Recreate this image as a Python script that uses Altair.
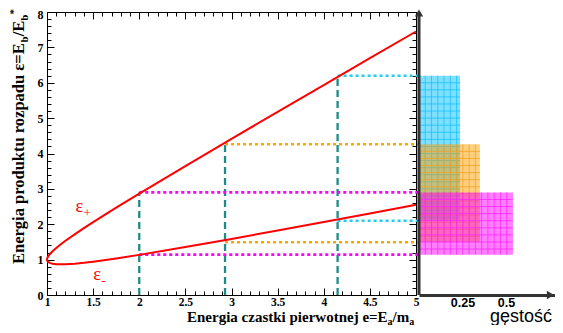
import altair as alt
import pandas as pd
import numpy as np

# ---- data ----
curve_e = [1.0, 1.002, 1.01, 1.03, 1.06, 1.1, 1.15, 1.2, 1.3, 1.4, 1.5, 1.75, 2.0, 2.5, 3.0, 3.5, 4.0, 4.5, 5.0]
eps_plus = [1.0, 1.034, 1.081, 1.153, 1.236, 1.329, 1.434, 1.532, 1.715, 1.890, 2.059, 2.468, 2.866, 3.646, 4.414, 5.177, 5.936, 6.694, 7.449]
eps_minus = [1.0, 0.970, 0.939, 0.907, 0.884, 0.871, 0.866, 0.868, 0.885, 0.910, 0.941, 1.032, 1.134, 1.354, 1.586, 1.823, 2.064, 2.306, 2.551]

mark_e = [2.0, 2.93, 4.15]
mark_hi = [2.9, 4.26, 6.2]
mark_lo = [1.14, 1.49, 2.1]
mark_color = ["#ff00ff", "#ffa500", "#22ccee"]

dens_lo = [2.1, 1.49, 1.14]
dens_hi = [6.2, 4.26, 2.9]
dens_w = [0.236, 0.35, 0.54]
dens_fill = ["#00bfff", "#ff9f00", "#ff00ff"]
dens_line = ["#10c0f8", "#f0a020", "#ff20ff"]

lab_e = [1.31, 1.50]
lab_eps = [2.35, 0.42]
lab_sub = ["+", "-"]

x_ticks = [round(1 + 0.1 * i, 1) for i in range(41)]
y_ticks = [round(0.2 * i, 1) for i in range(41)]
dens_ticks = [0.25, 0.5]

# ---- layout ----
W, H = 508, 283
WM = 369
D0, D1 = 372, 508

main_x = alt.Scale(domain=[1, 5], range=[0, WM], nice=False, zero=False)
yscale = alt.Scale(domain=[0, 8], nice=False, zero=False)
dens_x = alt.Scale(domain=[0, (D1 - D0) / 174.0], range=[D0, D1], nice=False, zero=False)

xt = "abs(datum.value*2 - round(datum.value*2)) < 0.001"
yt = "abs(datum.value - round(datum.value)) < 0.001"
xsize = {"condition": {"test": xt, "value": -7}, "value": -4}
ysize = {"condition": {"test": yt, "value": -7}, "value": -4}
common = dict(domainColor="black", domainWidth=1, tickColor="black", tickWidth=1,
              grid=False, labelOverlap=False, labelFlush=False, title=None)
lab = dict(labelFont="Liberation Serif", labelFontWeight="bold", labelColor="black")

x_bottom = alt.Axis(orient="bottom", values=x_ticks, tickSize=xsize, labelPadding=8, labelFontSize=11.5,
                    labelExpr=f"({xt}) ? format(datum.value, '~g') : ''", **lab, **common)
x_top = alt.Axis(orient="top", values=x_ticks, tickSize=xsize, labels=False, **common)
y_left = alt.Axis(orient="left", values=y_ticks, tickSize=ysize, labelPadding=11, labelFontSize=12,
                  labelOffset={"condition": {"test": "datum.value > 7.9", "value": 2}, "value": 0},
                  labelExpr=f"({yt}) ? format(datum.value, '~g') : ''", **lab, **common)
y_right = alt.Axis(orient="right", offset=-(W - WM), values=y_ticks, tickSize=ysize, labels=False, **common)
dens_axis = alt.Axis(orient="bottom", values=dens_ticks, format=".2~f", ticks=False, labelPadding=1,
                     labelFont="Liberation Sans", labelFontWeight="bold", labelFontSize=12.5,
                     labelColor="black", domainColor="#333333", domainWidth=3, grid=False,
                     labelFlush=False, title=None)

one = pd.DataFrame({"k": [0]})

# curve (lower branch reversed, then upper branch)
ce = list(reversed(curve_e)) + curve_e[1:]
cv = list(reversed(eps_minus)) + eps_plus[1:]
df_curve = pd.DataFrame({"e": ce, "eps": cv, "i": list(range(len(ce)))})

df_mark = pd.DataFrame({"e": mark_e, "hi": mark_hi, "lo": mark_lo, "zero": [0, 0, 0], "c": mark_color})
df_dot = pd.DataFrame({"e": mark_e * 2, "v": mark_hi + mark_lo, "c": mark_color * 2})

layers = []

dashed = alt.Chart(df_mark).mark_rule(color="#1f8a8a", strokeWidth=2.3, strokeDash=[7, 4]).encode(
    x=alt.X("e:Q", scale=main_x, axis=x_top),
    y=alt.Y("zero:Q", scale=yscale, axis=y_right),
    y2="hi:Q",
)
layers.append(dashed)

dotted = alt.Chart(df_dot).mark_rule(strokeWidth=2.6, strokeDash=[3, 3]).encode(
    x=alt.X("e:Q", scale=main_x, axis=None),
    x2=alt.value(D0 - 1),
    y=alt.Y("v:Q", scale=yscale, axis=None),
    color=alt.Color("c:N", scale=None),
)
layers.append(dotted)

curve = alt.Chart(df_curve).mark_line(color="#ff0000", strokeWidth=2).encode(
    x=alt.X("e:Q", scale=main_x, axis=x_bottom),
    y=alt.Y("eps:Q", scale=yscale, axis=y_left),
    order="i:Q",
)
layers.append(curve)

df_lab = pd.DataFrame({"e": lab_e, "eps": lab_eps, "sub": lab_sub})
layers.append(alt.Chart(df_lab).mark_text(font="Liberation Serif", fontSize=18, color="#ff0000",
                                          align="left", baseline="alphabetic").encode(
    x=alt.X("e:Q", scale=main_x, axis=None), y=alt.Y("eps:Q", scale=yscale, axis=None),
    text=alt.value("ε")))
layers.append(alt.Chart(df_lab).mark_text(font="Liberation Serif", fontSize=13, color="#ff0000",
                                          align="left", baseline="alphabetic", dx=8, dy=5).encode(
    x=alt.X("e:Q", scale=main_x, axis=None), y=alt.Y("eps:Q", scale=yscale, axis=None),
    text="sub:N"))

# density boxes with grid pattern
first = True
for lo, hi, w, fc, lc in zip(dens_lo, dens_hi, dens_w, dens_fill, dens_line):
    df_r = pd.DataFrame({"x0": [0.0], "w": [w], "lo": [lo], "hi": [hi]})
    layers.append(alt.Chart(df_r).mark_rect(color=fc, opacity=0.5).encode(
        x=alt.X("x0:Q", scale=dens_x, axis=dens_axis if first else None),
        x2="w:Q",
        y=alt.Y("lo:Q", scale=yscale, axis=None), y2="hi:Q"))
    first = False
    vx = np.arange(0.036, w - 0.005, 0.036)
    hy = hi - np.arange(0.2, hi - lo - 0.05, 0.2)
    df_v = pd.DataFrame({"x": vx, "lo": lo, "hi": hi})
    df_h = pd.DataFrame({"y": hy, "x0": 0.0, "w": w})
    layers.append(alt.Chart(df_v).mark_rule(color=lc, strokeWidth=0.9, opacity=0.8).encode(
        x=alt.X("x:Q", scale=dens_x, axis=None),
        y=alt.Y("lo:Q", scale=yscale, axis=None), y2="hi:Q"))
    layers.append(alt.Chart(df_h).mark_rule(color=lc, strokeWidth=0.9, opacity=0.8).encode(
        x=alt.X("x0:Q", scale=dens_x, axis=None), x2="w:Q",
        y=alt.Y("y:Q", scale=yscale, axis=None)))

# right panel axes (vertical line + arrows)
df0 = pd.DataFrame({"x": [0.0]})
layers.append(alt.Chart(df0).mark_rule(color="#333333", strokeWidth=3).encode(
    x=alt.X("x:Q", scale=dens_x, axis=None), y=alt.value(0), y2=alt.value(H)))
layers.append(alt.Chart(df0).mark_point(shape="triangle-up", filled=True, color="#333333",
                                        size=70, opacity=1).encode(
    x=alt.X("x:Q", scale=dens_x, axis=None), y=alt.value(1)))
layers.append(alt.Chart(pd.DataFrame({"x": [(D1 - D0 - 4.5) / 174.0]})).mark_point(
    shape="triangle-right", filled=True, color="#333333", size=70, opacity=1).encode(
    x=alt.X("x:Q", scale=dens_x, axis=None), y=alt.value(H)))

layers.append(alt.Chart(one).mark_text(font="Liberation Sans", fontSize=18, align="center",
                                       baseline="alphabetic", color="black").encode(
    x=alt.value(474), y=alt.value(310), text=alt.value("gęstość")))

# x title pieces
xt_pieces = [("Energia czastki pierwotnej e=E", 15, 0, 0), ("a", 10, 200.6, 2.5),
             ("/m", 15, 205.6, 0), ("a", 10, 222.3, 2.5)]
for t, fs, dx, dy in xt_pieces:
    layers.append(alt.Chart(one).mark_text(font="Liberation Serif", fontWeight="bold", fontSize=fs,
                                           align="left", baseline="alphabetic", color="black",
                                           dx=dx, dy=dy).encode(
        x=alt.value(140), y=alt.value(310), text=alt.value(t)))

# y title pieces (rotated)
yt_pieces = [("Energia produktu rozpadu ε=E", 16.5, 0, 0), ("b", 11, 221.6, 4),
             ("/E", 16.5, 227.7, 0), ("b", 11, 243.3, 4), ("*", 11, 249.4, -7)]
for t, fs, dx, dy in yt_pieces:
    layers.append(alt.Chart(one).mark_text(font="Liberation Serif", fontWeight="bold", fontSize=fs,
                                           align="left", baseline="alphabetic", color="black",
                                           angle=270, dx=dx, dy=dy).encode(
        x=alt.value(-23), y=alt.value(252), text=alt.value(t)))

chart = alt.layer(*layers).resolve_scale(x="independent").resolve_axis(
    x="independent", y="independent"
).properties(
    width=W, height=H,
    padding={"left": 39, "top": 4, "right": 0, "bottom": 30},
    autosize=alt.AutoSizeParams(type="none"),
).configure_view(stroke=None)

chart.save("out.html", embed_options={"renderer": "svg", "actions": False})
